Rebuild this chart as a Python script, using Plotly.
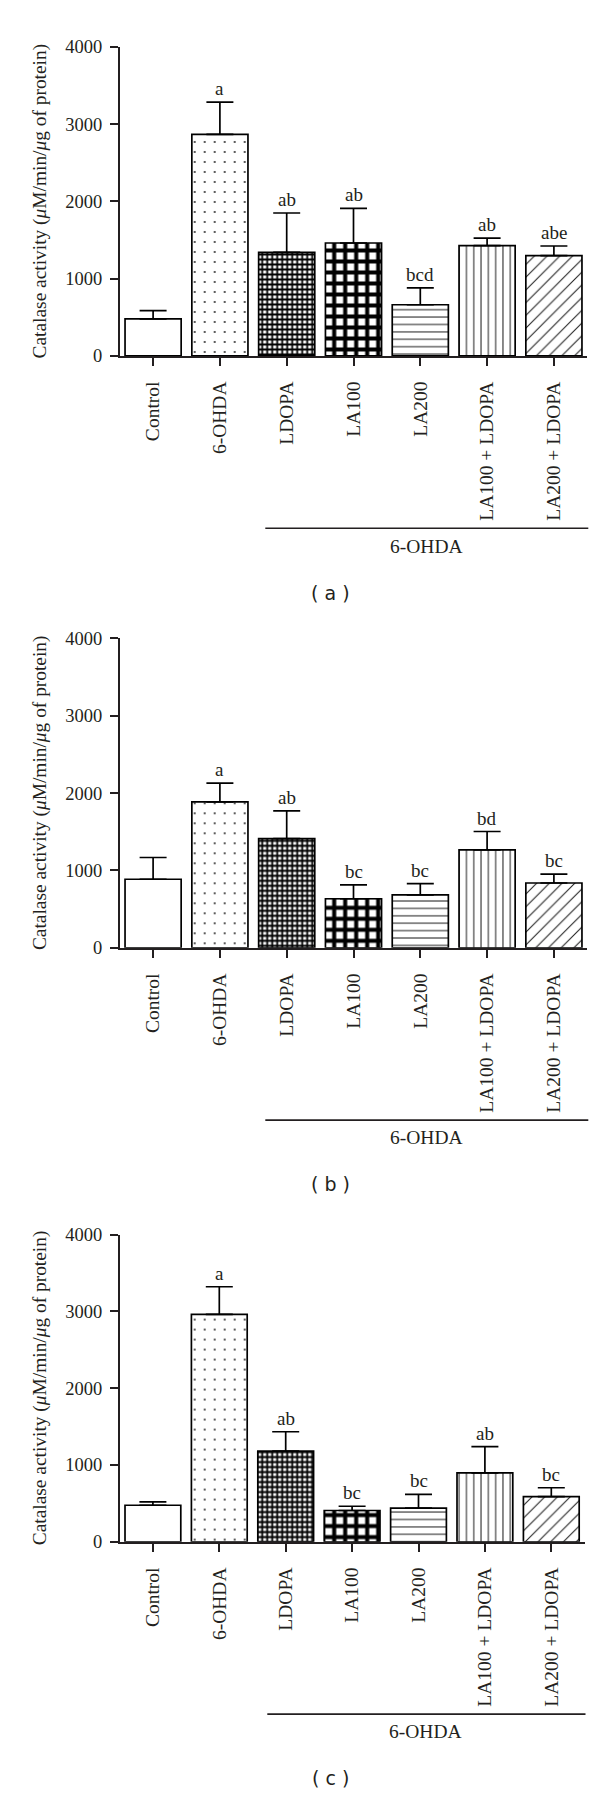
import plotly.graph_objects as go

categories = ["Control", "6-OHDA", "LDOPA", "LA100", "LA200", "LA100 + LDOPA", "LA200 + LDOPA"]

# Panel (a)
mean_a = [478, 2867, 1341, 1462, 662, 1427, 1299]
sem_a = [107, 419, 509, 448, 218, 99, 124]
letters_a = ["", "a", "ab", "ab", "bcd", "ab", "abe"]

# Panel (b)
mean_b = [886, 1886, 1410, 634, 685, 1265, 838]
sem_b = [281, 243, 361, 179, 145, 238, 115]
letters_b = ["", "a", "ab", "bc", "bc", "bd", "bc"]

# Panel (c)
mean_c = [476, 2961, 1180, 408, 438, 897, 588]
sem_c = [43, 360, 253, 55, 180, 343, 116]
letters_c = ["", "a", "ab", "bc", "bc", "ab", "bc"]

panel_names = ["( a )", "( b )", "( c )"]
y_ticks = [0, 1000, 2000, 3000, 4000]
y_title = "Catalase activity (<i>μ</i>M/min/<i>μ</i>g of protein)"
group_label = "6-OHDA"

W, H = 600, 1794
INK = "#231f20"
SERIF = "Liberation Serif"

# pattern styles per bar
p_shape = ["", ".", "+", "+", "-", "|", "/"]
p_size = [8, 10, 5, 11, 7.4, 7.3, 9]
p_sol = [0.2, 0.035, 0.6, 0.6, 0.14, 0.14, 0.12]
p_fg = ["#000", "#333", "#000", "#000", "#222", "#222", "#222"]

# layout geometry (pixels)
panels = [
    dict(mean=mean_a, sem=sem_a, letters=letters_a, top=29.3, bottom=341.7, left=111.7, right=579.3, line_x0=257.3),
    dict(mean=mean_b, sem=sem_b, letters=letters_b, top=627.3, bottom=940.3, left=111.7, right=579.3, line_x0=257.3),
    dict(mean=mean_c, sem=sem_c, letters=letters_c, top=1230.3, bottom=1541.0, left=111.7, right=576.5, line_x0=259.3),
]

fig = go.Figure()
annotations = []
shapes = []

for i, p in enumerate(panels):
    k = "" if i == 0 else str(i + 1)
    xa, ya = "x" + k, "y" + k
    fig.add_trace(go.Bar(
        x=categories, y=p["mean"], xaxis=xa, yaxis=ya, width=0.84,
        marker=dict(
            color="white",
            line=dict(color="#000", width=1.7),
            pattern=dict(shape=p_shape, size=p_size, solidity=p_sol,
                         fgcolor=p_fg, bgcolor="white", fillmode="replace"),
        ),
        error_y=dict(type="data", symmetric=False, array=p["sem"],
                     arrayminus=[0] * len(p["sem"]), color="#000",
                     thickness=1.7, width=13.5),
        showlegend=False, hoverinfo="x+y",
    ))
    xdom = [p["left"] / W, p["right"] / W]
    ydom = [1 - p["bottom"] / H, 1 - p["top"] / H]
    axis_common = dict(showline=True, linecolor=INK, linewidth=1.7, ticks="outside",
                       ticklen=8, tickwidth=1.7, tickcolor=INK, showgrid=False,
                       zeroline=False)
    fig.update_layout(**{
        ("xaxis" + k): dict(domain=xdom, anchor=ya, range=[-0.5, 6.5], type="category",
                            tickangle=-90, tickfont=dict(family=SERIF, size=19.5, color=INK),
                            ticklabelstandoff=8, **axis_common),
        ("yaxis" + k): dict(domain=ydom, anchor=xa, range=[0, 4000], tickvals=y_ticks,
                            tickfont=dict(family=SERIF, size=18.5, color=INK),
                            ticklabelstandoff=4, **axis_common),
    })
    # significance letters
    for c, m, s, t in zip(categories, p["mean"], p["sem"], p["letters"]):
        if t:
            annotations.append(dict(x=c, y=m + s, xref=xa, yref=ya, text=t, showarrow=False,
                                    yanchor="bottom", yshift=1,
                                    font=dict(family=SERIF, size=19, color=INK)))
    # y title
    annotations.append(dict(x=32 / W, y=(ydom[0] + ydom[1]) / 2, xref="paper", yref="paper",
                            text=y_title, textangle=-90, showarrow=False,
                            xanchor="center", yanchor="middle",
                            font=dict(family=SERIF, size=19.4, color=INK)))
    # group bracket
    ax_px = p["bottom"]
    shapes.append(dict(type="line", xref="paper", yref="paper",
                       x0=p["line_x0"] / W, x1=(p["right"] + 1) / W,
                       y0=1 - (ax_px + 174.3) / H, y1=1 - (ax_px + 174.3) / H,
                       line=dict(color=INK, width=1.7)))
    annotations.append(dict(x=(p["line_x0"] + p["right"]) / 2 / W, y=1 - (ax_px + 192.3) / H,
                            xref="paper", yref="paper", text=group_label, showarrow=False,
                            xanchor="center", yanchor="middle",
                            font=dict(family=SERIF, size=19.5, color=INK)))
    annotations.append(dict(x=322.5 / W, y=1 - (ax_px + 239.3) / H,
                            xref="paper", yref="paper", text=panel_names[i], showarrow=False,
                            xanchor="center", yanchor="middle",
                            font=dict(family="DejaVu Sans", size=19, color=INK)))

fig.update_layout(width=W, height=H, margin=dict(l=0, r=0, t=0, b=0),
                  paper_bgcolor="white", plot_bgcolor="white",
                  annotations=annotations, shapes=shapes, bargap=0.16)

fig.write_html("out.html")
